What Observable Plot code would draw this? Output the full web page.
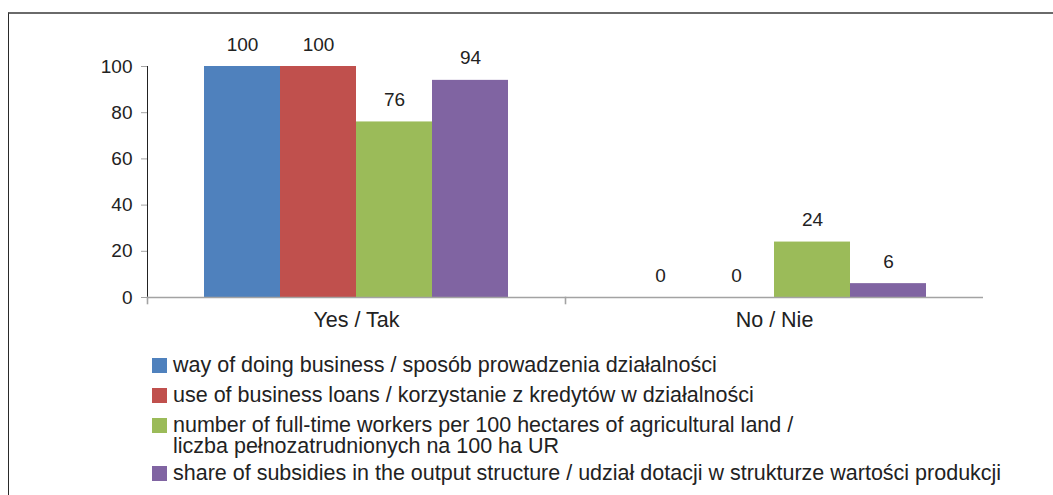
<!DOCTYPE html>
<html>
<head>
<meta charset="utf-8">
<script src="https://cdn.jsdelivr.net/npm/d3@7"></script>
<script src="https://cdn.jsdelivr.net/npm/@observablehq/plot@0.6"></script>
<style>
  html, body { margin: 0; padding: 0; background: #fff; overflow: hidden; width: 1053px; height: 495px; }
  body { position: relative; font-family: "Liberation Sans", Arial, Helvetica, sans-serif; color: #222; }
  #frame { position: absolute; left: 8px; top: 12px; width: 2000px; height: 2000px;
           border-top: 2px solid #6a6a6a; border-left: 1px solid #2a2a2a; box-sizing: border-box; }
  #chart { position: absolute; left: 0; top: 0; }
  #chart svg { overflow: visible; }
  #legend { position: absolute; left: 152px; top: 355px; font-size: 21.5px; line-height: 21px; }
  .item { display: flex; align-items: flex-start; margin-bottom: 9px; }
  .item.multi { margin-bottom: 6px; }
  .sw { width: 15px; height: 15px; margin-top: 3px; margin-right: 6px; flex: none; }
  .lab { white-space: pre; }
  g[aria-label="y-axis tick"], g[aria-label="y-axis line"], g[aria-label="fx-axis tick"] { color: #a3a3a3; }
  g[aria-label="y-axis tick label"] { color: #222; font-size: 19px; }
  g[aria-label="fx-axis tick label"] { color: #222; font-size: 21.5px; }
  .tick line { stroke: #a3a3a3; }
</style>
</head>
<body>
<div id="frame"></div>
<div id="chart"></div>
<div id="legend"></div>
<script>
// ---- data ----
const categories = ["Yes / Tak", "No / Nie"];
const series = [
  "way of doing business / sposób prowadzenia działalności",
  "use of business loans / korzystanie z kredytów w działalności",
  "number of full-time workers per 100 hectares of agricultural land /\nliczba pełnozatrudnionych na 100 ha UR",
  "share of subsidies in the output structure / udział dotacji w strukturze wartości produkcji"
];
const valuesYes = [100, 100, 76, 94];
const valuesNo = [0, 0, 24, 6];
const colors = ["#4F81BD", "#C0504D", "#9BBB59", "#8064A2"];
const yTicks = [0, 20, 40, 60, 80, 100];

// ---- table ----
const rows = [];
[valuesYes, valuesNo].forEach((vals, ci) => {
  vals.forEach((v, si) => rows.push({category: categories[ci], series: series[si], value: v}));
});

const W = 1053, H = 340, mTop = 66, mBottom = 43, mLeft = 147, mRight = 70;
const axisGray = "#a3a3a3";

const plot = Plot.plot({
  width: W,
  height: H,
  marginTop: mTop,
  marginBottom: mBottom,
  marginLeft: mLeft,
  marginRight: mRight,
  style: {fontFamily: "'Liberation Sans', Arial, Helvetica, sans-serif", fontSize: "19px", color: "#222", background: "transparent", overflow: "visible"},
  facet: {data: rows, x: "category"},
  fx: {domain: categories, padding: 0, round: false, axis: "bottom", label: null, tickSize: 0, tickPadding: 14},
  x: {domain: series, paddingInner: 0, paddingOuter: 0.75, round: false, axis: null},
  y: {domain: [0, 100], ticks: yTicks, tickSize: 6, tickPadding: 9, line: true, label: null},
  color: {domain: series, range: colors},
  marks: [
    Plot.barY(rows, {x: "series", y: "value", fill: "series"}),
    Plot.ruleY([0], {stroke: axisGray, strokeWidth: 1.6}),
    Plot.frame({anchor: "left", stroke: axisGray, strokeWidth: 1.6, insetTop: H - mTop - mBottom, insetBottom: -6}),
    Plot.text(rows, {x: "series", y: "value", text: d => String(d.value), dy: -22, fontSize: 19, fill: "#222"})
  ]
});
document.getElementById("chart").appendChild(plot);

// ---- legend ----
const legend = d3.select("#legend");
series.forEach((s, i) => {
  const item = legend.append("div").attr("class", "item" + (s.includes("\n") ? " multi" : ""));
  item.append("div").attr("class", "sw").style("background", colors[i]);
  item.append("div").attr("class", "lab").text(s);
});
</script>
</body>
</html>
